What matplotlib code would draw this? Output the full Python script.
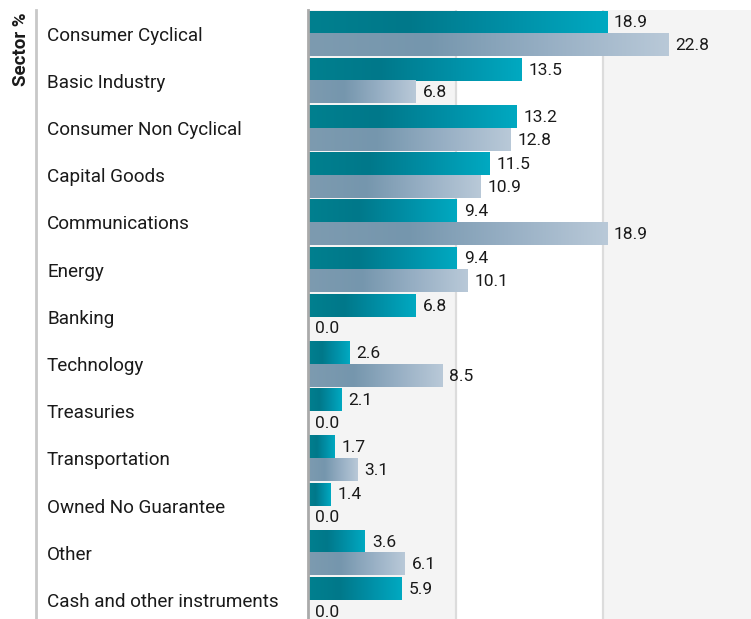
import matplotlib
matplotlib.use('Agg')
import matplotlib.pyplot as plt
import numpy as np
from matplotlib.colors import LinearSegmentedColormap

plt.rcParams['font.family'] = ['Roboto', 'DejaVu Sans']

# Data
sectors = ['Consumer Cyclical', 'Basic Industry', 'Consumer Non Cyclical', 'Capital Goods',
           'Communications', 'Energy', 'Banking', 'Technology', 'Treasuries',
           'Transportation', 'Owned No Guarantee', 'Other', 'Cash and other instruments']
fund = [18.9, 13.5, 13.2, 11.5, 9.4, 9.4, 6.8, 2.6, 2.1, 1.7, 1.4, 3.6, 5.9]
benchmark = [22.8, 6.8, 12.8, 10.9, 18.9, 10.1, 0.0, 8.5, 0.0, 3.1, 0.0, 6.1, 0.0]

TEAL = LinearSegmentedColormap.from_list('teal', ['#00808f', '#00788a', '#008fa6', '#00a9c1'], N=256)
GREY = LinearSegmentedColormap.from_list('grey', ['#7d9bb0', '#7596ad', '#97afc4', '#b9c9d8'], N=256)

W, H = 751, 619
fig = plt.figure(figsize=(W / 100, H / 100), dpi=100)
ax = fig.add_axes([308 / W, 0, (W - 308) / W, (H - 10) / H])

xmax = 28.0
bar_h = 0.48
pitch = 47.2  # px per category

# alternating background bands
edges = np.linspace(0, xmax, 4)
for k in range(3):
    ax.axvspan(edges[k], edges[k + 1], color='#f4f4f4' if k != 1 else 'white', zorder=0, lw=0)
for e in edges[1:3]:
    ax.axvline(e, color='#dcdcdc', lw=1.6, zorder=0.5)

grad = np.linspace(0, 1, 256).reshape(1, -1)


def draw_bars(values, offset, cmap):
    ys = np.arange(len(values)) + offset
    bars = ax.barh(ys, values, height=bar_h, align='edge', color='none', lw=0)
    for bar, v in zip(bars, values):
        x0, y0 = bar.get_x(), bar.get_y()
        if v > 0:
            ax.imshow(grad, cmap=cmap, aspect='auto', zorder=2,
                      extent=(x0, x0 + bar.get_width(), y0 + bar.get_height(), y0))
        ax.annotate(f'{v:.1f}', (v, y0 + bar.get_height() / 2), xytext=(5, -0.5),
                    textcoords='offset points', ha='left', va='center',
                    fontsize=12.5, color='#1a1a1a', zorder=3)


draw_bars(fund, -bar_h, TEAL)
draw_bars(benchmark, 0.0, GREY)

ax.set_xlim(0, xmax)
ax.set_ylim(-0.5 + (H - 10) / pitch, -0.5)
ax.set_xticks([])
ax.set_yticks([])
for s in ['top', 'right', 'bottom']:
    ax.spines[s].set_visible(False)
ax.spines['left'].set_color('#aaaaaa')
ax.spines['left'].set_linewidth(2)

# category labels
for i, name in enumerate(sectors):
    y = 12 + (i + 0.5) * pitch
    fig.text(47 / W, 1 - y / H, name, ha='left', va='center', fontsize=13.6, color='#1a1a1a')

# left divider and axis title
fig.add_artist(plt.Line2D([36 / W, 36 / W], [0, 1 - 10 / H], color='#c8c8c8', lw=2))
fig.text(21.5 / W, 1 - 12 / H, 'Sector %', rotation=90, ha='center', va='top',
         fontsize=13.5, fontweight='bold', color='#1a1a1a')

fig.savefig('out.png', dpi=100)
